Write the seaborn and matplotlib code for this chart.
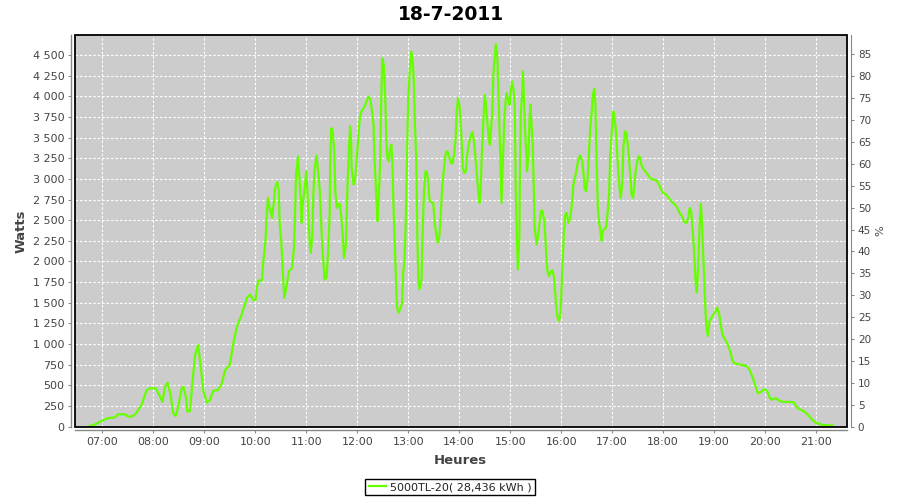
import matplotlib
matplotlib.use("Agg")
import matplotlib.pyplot as plt
from matplotlib.patches import Rectangle
from matplotlib.ticker import FuncFormatter, FixedLocator
import seaborn as sns
import pandas as pd

# ---------------- data ----------------
title = "18-7-2011"
series_label = "5000TL-20( 28,436 kWh )"

hours = [
    6.72, 6.80, 6.90, 6.96, 7.09, 7.25, 7.31, 7.45, 7.51, 7.61, 7.67, 7.77, 7.87, 7.94, 8.05,
    8.10, 8.18, 8.23, 8.28, 8.34, 8.39, 8.44, 8.49, 8.56, 8.59, 8.64, 8.67, 8.72, 8.76, 8.82,
    8.88, 8.93, 8.98, 9.05, 9.11, 9.18, 9.27, 9.34, 9.41, 9.50, 9.57, 9.64, 9.73, 9.84, 9.90,
    9.97, 10.01, 10.03, 10.07, 10.13, 10.16, 10.20, 10.23, 10.25, 10.28, 10.33, 10.36, 10.39,
    10.43, 10.46, 10.48, 10.51, 10.54, 10.57, 10.61, 10.66, 10.72, 10.76, 10.78, 10.80, 10.84,
    10.87, 10.89, 10.91, 10.93, 10.97, 11.00, 11.02, 11.05, 11.07, 11.09, 11.12, 11.14, 11.16,
    11.20, 11.24, 11.27, 11.30, 11.33, 11.36, 11.40, 11.43, 11.46, 11.47, 11.49, 11.52, 11.55,
    11.57, 11.60, 11.63, 11.66, 11.69, 11.72, 11.74, 11.78, 11.80, 11.82, 11.84, 11.86, 11.88,
    11.89, 11.93, 11.96, 11.99, 12.02, 12.05, 12.08, 12.13, 12.18, 12.22, 12.26, 12.29, 12.32,
    12.34, 12.36, 12.38, 12.40, 12.42, 12.45, 12.47, 12.49, 12.52, 12.55, 12.57, 12.59, 12.62,
    12.64, 12.67, 12.69, 12.71, 12.73, 12.76, 12.78, 12.81, 12.84, 12.88, 12.90, 12.93, 12.95,
    12.97, 13.00, 13.03, 13.06, 13.09, 13.11, 13.13, 13.16, 13.18, 13.20, 13.22, 13.26, 13.28,
    13.31, 13.34, 13.36, 13.39, 13.42, 13.49, 13.52, 13.55, 13.58, 13.61, 13.64, 13.67, 13.71,
    13.74, 13.77, 13.80, 13.84, 13.87, 13.90, 13.93, 13.95, 13.98, 14.01, 14.03, 14.05, 14.07,
    14.10, 14.13, 14.16, 14.20, 14.23, 14.26, 14.29, 14.32, 14.35, 14.38, 14.40, 14.42, 14.44,
    14.47, 14.50, 14.52, 14.55, 14.58, 14.60, 14.62, 14.65, 14.67, 14.70, 14.72, 14.75, 14.77,
    14.79, 14.81, 14.83, 14.85, 14.87, 14.89, 14.92, 14.93, 14.96, 14.99, 15.01, 15.04, 15.07,
    15.09, 15.11, 15.13, 15.15, 15.18, 15.19, 15.21, 15.24, 15.25, 15.27, 15.29, 15.32, 15.33,
    15.36, 15.38, 15.40, 15.41, 15.44, 15.46, 15.48, 15.50, 15.52, 15.55, 15.58, 15.60, 15.63,
    15.67, 15.69, 15.71, 15.73, 15.76, 15.80, 15.83, 15.86, 15.88, 15.91, 15.93, 15.96, 15.99,
    16.02, 16.05, 16.08, 16.11, 16.14, 16.18, 16.21, 16.24, 16.26, 16.29, 16.33, 16.37, 16.41,
    16.44, 16.46, 16.49, 16.52, 16.54, 16.57, 16.60, 16.62, 16.65, 16.67, 16.69, 16.72, 16.75,
    16.77, 16.79, 16.82, 16.85, 16.88, 16.91, 16.94, 16.96, 16.99, 17.02, 17.04, 17.07, 17.09,
    17.12, 17.15, 17.17, 17.20, 17.22, 17.25, 17.28, 17.30, 17.33, 17.36, 17.38, 17.41, 17.43,
    17.46, 17.49, 17.52, 17.55, 17.57, 17.62, 17.69, 17.76, 17.87, 17.92, 17.96, 18.00, 18.06,
    18.11, 18.16, 18.23, 18.28, 18.32, 18.37, 18.41, 18.46, 18.49, 18.52, 18.55, 18.57, 18.60,
    18.62, 18.64, 18.66, 18.68, 18.70, 18.72, 18.74, 18.76, 18.78, 18.80, 18.82, 18.84, 18.86,
    18.88, 18.91, 18.95, 18.99, 19.03, 19.06, 19.10, 19.13, 19.16, 19.21, 19.25, 19.29, 19.33,
    19.36, 19.41, 19.47, 19.54, 19.63, 19.69, 19.73, 19.78, 19.82, 19.86, 19.92, 19.97, 20.01,
    20.05, 20.08, 20.13, 20.18, 20.23, 20.28, 20.36, 20.46, 20.56, 20.60, 20.65, 20.72, 20.78,
    20.85, 20.92, 20.98, 21.05, 21.14, 21.24, 21.32,
]

watts = [
    0, 15, 40, 60, 100, 114, 150, 150, 121, 130, 170, 263, 444, 465, 465,
    404, 303, 484, 533, 384, 162, 130, 242, 472, 484, 363, 182, 190, 484, 868,
    989, 726, 444, 291, 323, 436, 444, 517, 686, 747, 1009, 1211, 1352, 1562, 1600,
    1530, 1540, 1683, 1771, 1771, 2005, 2247, 2609, 2770, 2649, 2528, 2689, 2890,
    2963, 2870, 2448, 2247, 1884, 1562, 1683, 1884, 1916, 2166, 2568, 3052, 3273,
    2971, 2770, 2468, 2689, 2890, 3092, 2890, 2448, 2206, 2106, 2327, 2810, 3092,
    3285, 3052, 2810, 2367, 2045, 1783, 1804, 2126, 2568, 3172, 3615, 3575, 3333,
    2850, 2649, 2689, 2697, 2528, 2287, 2045, 2206, 2730, 3092, 3394, 3635, 3494,
    3132, 2931, 2991, 3233, 3494, 3736, 3817, 3857, 3937, 3998, 3958, 3817, 3656,
    3233, 2971, 2709, 2488, 2730, 3213, 3937, 4461, 4380, 3978, 3474, 3253, 3213,
    3354, 3414, 3172, 2689, 2327, 1804, 1441, 1381, 1421, 1502, 1844, 2045, 2448,
    3052, 3978, 4300, 4541, 4420, 4179, 3696, 3172, 2287, 1763, 1663, 1763, 2287,
    2850, 3092, 3092, 2991, 2730, 2709, 2468, 2327, 2226, 2300, 2589, 2931, 3172,
    3326, 3334, 3273, 3193, 3190, 3293, 3494, 3817, 3978, 3857, 3656, 3454, 3132,
    3072, 3092, 3313, 3454, 3535, 3567, 3454, 3253, 3011, 2810, 2709, 2850, 3253,
    3656, 4018, 3937, 3696, 3494, 3414, 3575, 3817, 4259, 4501, 4630, 4461, 4058,
    3615, 3172, 2709, 3092, 3454, 3777, 3998, 4038, 3958, 3897, 4058, 4179, 4058,
    3857, 2850, 2327, 1904, 2287, 2971, 3817, 4078, 4300, 3978, 3615, 3253, 3092,
    3293, 3736, 3897, 3736, 3454, 2971, 2407, 2307, 2206, 2327, 2488, 2609, 2617,
    2488, 2287, 2045, 1884, 1824, 1884, 1892, 1804, 1643, 1401, 1321, 1280, 1401,
    1884, 2300, 2568, 2589, 2468, 2528, 2689, 2931, 2991, 3072, 3213, 3285, 3233,
    3052, 2890, 2850, 3011, 3253, 3615, 3817, 4018, 4090, 3937, 3334, 2649, 2448,
    2367, 2247, 2367, 2399, 2407, 2589, 2810, 3253, 3535, 3817, 3777, 3615, 3414,
    3092, 2850, 2770, 2971, 3374, 3575, 3555, 3454, 3253, 3011, 2810, 2770, 2890,
    3092, 3213, 3273, 3260, 3172, 3112, 3059, 2999, 2983, 2931, 2870, 2830, 2810,
    2770, 2730, 2689, 2649, 2589, 2548, 2480, 2468, 2528, 2649, 2609, 2448, 2206,
    1965, 1723, 1623, 1844, 2166, 2528, 2700, 2488, 2166, 1884, 1562, 1280, 1159,
    1099, 1280, 1320, 1361, 1401, 1441, 1361, 1240, 1119, 1059, 1019, 958, 878,
    797, 765, 757, 749, 737, 696, 636, 556, 475, 403, 421, 450, 450,
    421, 360, 328, 340, 340, 312, 300, 300, 296, 259, 219, 198, 178,
    138, 85, 57, 36, 20, 16, 16,
]

hour_ticks = list(range(7, 22))
watt_ticks = list(range(0, 4501, 250))
pct_ticks = list(range(0, 86, 5))

df = pd.DataFrame({"Heures": hours, "Watts": watts})

# ---------------- figure ----------------
W, H = 900, 500
L, R, T, B = 75, 846.7, 35, 426.7
fig = plt.figure(figsize=(9, 5), dpi=100)
fig.patch.set_facecolor("white")
ax = fig.add_axes([L / W, 1 - B / H, (R - L) / W, (B - T) / H])
ax.set_facecolor("#cccccc")

sns.lineplot(data=df, x="Heures", y="Watts", ax=ax, color="#66ff00",
             linewidth=1.6, label=series_label, zorder=3, estimator=None)

ax.set_xlim(6.465, 21.6)
ax.set_ylim(0, 4742)
ax.xaxis.set_major_locator(FixedLocator(hour_ticks))
ax.xaxis.set_major_formatter(FuncFormatter(lambda v, p: f"{int(round(v)):02d}:00"))
ax.yaxis.set_major_locator(FixedLocator(watt_ticks))
ax.yaxis.set_major_formatter(FuncFormatter(lambda v, p: f"{int(v):,}".replace(",", " ")))

ax.grid(True, color="white", linestyle=(0, (2.2, 1.8)), linewidth=0.8)
ax.set_axisbelow(True)

for s in ["top", "right"]:
    ax.spines[s].set_visible(False)
for s in ["left", "bottom"]:
    ax.spines[s].set_position(("outward", 2.7))
    ax.spines[s].set_color("#888888")
    ax.spines[s].set_linewidth(1.0)

ax.tick_params(axis="both", direction="out", length=2, width=0.8, colors="#888888",
               labelsize=8, labelcolor="#444444", pad=3)

ax.add_patch(Rectangle((0, 0), 1, 1, transform=ax.transAxes, fill=False,
                       edgecolor="black", linewidth=1.3, zorder=6, clip_on=False))

ax.set_xlabel("Heures", fontsize=9.5, fontweight="bold", color="#444444")
ax.set_ylabel("Watts", fontsize=9.5, fontweight="bold", color="#444444")
ax.xaxis.label.set_verticalalignment("center")
ax.yaxis.label.set_verticalalignment("center")
ax.xaxis.set_label_coords((460.5 - L) / (R - L), (B - 460) / (B - T))
ax.yaxis.set_label_coords((21 - L) / (R - L), 0.5)

# secondary (percentage) axis
ax2 = ax.twinx()
ax2.set_ylim(0, 89.4)
ax2.yaxis.set_major_locator(FixedLocator(pct_ticks))
for s in ["top", "left", "bottom"]:
    ax2.spines[s].set_visible(False)
ax2.spines["right"].set_position(("outward", 3))
ax2.spines["right"].set_color("#888888")
ax2.tick_params(axis="y", direction="out", length=2, width=0.8, colors="#888888",
                labelsize=7.5, labelcolor="#444444", pad=3)
ax2.set_ylabel("%", fontsize=8, color="#444444", rotation=90)
ax2.yaxis.label.set_verticalalignment("center")
ax2.yaxis.set_label_coords((880 - L) / (R - L), 0.5)

fig.suptitle(title, x=(L + R) / 2 / W - 0.0105, y=1 - 14 / H, va="center",
             fontsize=13.5, fontweight="bold", color="black")

leg = ax.legend(loc="center", bbox_to_anchor=(450 / W, 1 - 487 / H),
                bbox_transform=fig.transFigure, frameon=True, fancybox=False,
                edgecolor="black", framealpha=1, fontsize=8, handlelength=1.6,
                handletextpad=0.3, borderpad=0.3, borderaxespad=0)
leg.get_frame().set_linewidth(1.0)
for t in leg.get_texts():
    t.set_color("#222222")

fig.savefig("out.png", dpi=100)
